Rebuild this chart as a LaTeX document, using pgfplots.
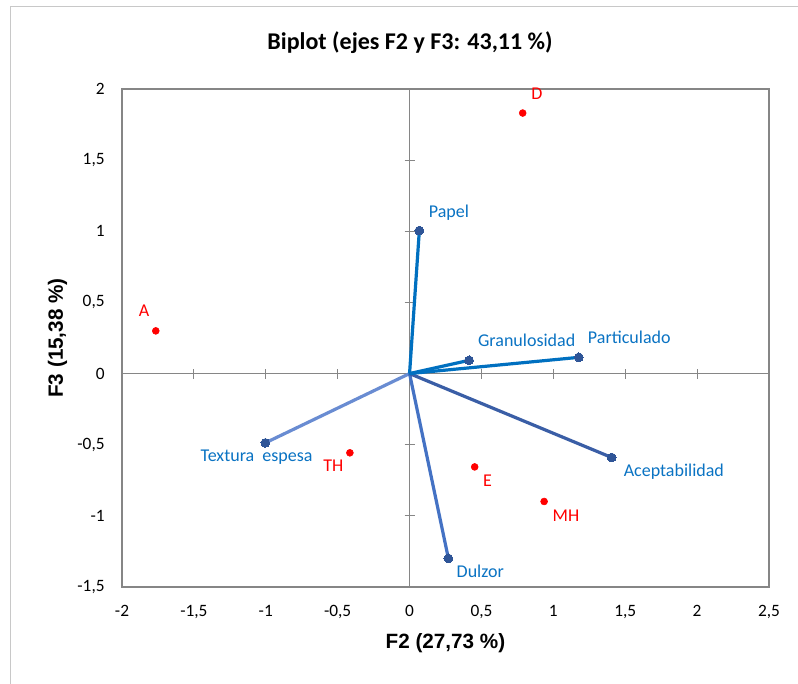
\documentclass[border=0pt]{standalone}
\usepackage{fontspec}
\setmainfont{Carlito}
\newfontfamily\arialfont{Liberation Sans}
\usepackage{pgfplots}
\pgfplotsset{compat=1.18}
\definecolor{axgray}{RGB}{134,134,134}
\definecolor{frgray}{RGB}{200,200,200}
\definecolor{vblue}{RGB}{0,112,192}
\definecolor{vdark}{RGB}{58,94,166}
\definecolor{vmid}{RGB}{68,114,196}
\definecolor{vlight}{RGB}{105,140,210}
\definecolor{mkblue}{RGB}{47,85,151}
\definecolor{lblblue}{RGB}{10,115,195}
\definecolor{ptred}{RGB}{255,0,0}
\tikzset{
  lbl/.style={anchor=base west, inner sep=0pt, font=\fontsize{13.5}{16}\selectfont, text=lblblue},
  rlbl/.style={anchor=base west, inner sep=0pt, font=\fontsize{13.5}{16}\selectfont, text=ptred},
  vec/.style={line width=2.4pt, mark=*, mark indices={2}, mark size=3.3pt,
    mark options={fill=mkblue, draw=mkblue, line width=0pt}}}
\begin{document}
\begin{tikzpicture}
\useasboundingbox (0,0) rectangle (598.5pt,513pt);
\fill[white] (0,0) rectangle (598.5pt,513pt);
\draw[frgray, line width=0.75pt] (7.5pt,0) -- (7.5pt,507.75pt) -- (598.5pt,507.75pt);
\pgfplotsset{common/.style={at={(91.5pt,72.75pt)}, anchor=south west, scale only axis,
  width=485.25pt, height=373.5pt, xmin=-2, xmax=2.5, ymin=-1.5, ymax=2,
  xtick={-2,-1.5,-1,-0.5,0,0.5,1,1.5,2,2.5}, ytick={-1.5,-1,-0.5,0,0.5,1,1.5,2}}}
% zero lines with crossing ticks
\begin{axis}[common, axis lines=middle, axis line style={axgray, line width=0.75pt, -},
  tick style={axgray, line width=0.75pt}, tick align=center, major tick length=7.5pt,
  xticklabels={}, yticklabels={}]
\end{axis}
% main axis
\begin{axis}[common, axis line style={axgray, line width=1.5pt}, tick style={draw=none},
  major tick length=0pt, clip=false,
  tick label style={font=\fontsize{13}{15}\selectfont, black},
  /pgf/number format/assume math mode=true, /pgf/number format/use comma,
  /pgf/number format/fixed, /pgf/number format/precision=1,
  xticklabel shift=10.5pt, yticklabel shift=9.5pt]
\addplot[vec, vlight] coordinates {(0,0) (-1.003,-0.487)};
\addplot[vec, vmid] coordinates {(0,0) (0.270,-1.299)};
\addplot[vec, vdark] coordinates {(0,0) (1.406,-0.590)};
\addplot[vec, vblue] coordinates {(0,0) (0.068,1.005)};
\addplot[vec, vblue] coordinates {(0,0) (0.414,0.093)};
\addplot[vec, vblue] coordinates {(0,0) (1.177,0.114)};
\addplot[only marks, mark=*, mark size=2.6pt, color=ptred] coordinates {
  (-1.765,0.30) (0.787,1.831) (-0.415,-0.557) (0.453,-0.656) (0.936,-0.899)};
\node[lbl] at (axis cs:0.133,1.099) {Papel};
\node[lbl] at (axis cs:0.475,0.189) {Granulosidad};
\node[lbl] at (axis cs:1.239,0.2125) {Particulado};
\node[lbl] at (axis cs:1.488,-0.726) {Aceptabilidad};
\node[lbl] at (axis cs:-1.455,-0.621) {Textura\hspace{0.45em}espesa};
\node[lbl] at (axis cs:0.326,-1.434) {Dulzor};
\node[rlbl] at (axis cs:-1.885,0.40) {A};
\node[rlbl] at (axis cs:0.845,1.925) {D};
\node[rlbl] at (axis cs:-0.602,-0.691) {TH};
\node[rlbl] at (axis cs:0.509,-0.797) {E};
\node[rlbl] at (axis cs:0.994,-1.043) {MH};
\end{axis}
\node[anchor=base, font=\bfseries\fontsize{18}{21}\selectfont] at (307.5pt,475.5pt) {Biplot (ejes F2 y F3: 43,11 \%)};
\node[font=\arialfont\bfseries\fontsize{15.5}{18}\selectfont] at (334.1pt,30.75pt) {F2 (27,73 \%)};
\node[rotate=90, font=\arialfont\bfseries\fontsize{15.5}{18}\selectfont] at (43.1pt,259.5pt) {F3 (15,38 \%)};
\end{tikzpicture}
\end{document}
